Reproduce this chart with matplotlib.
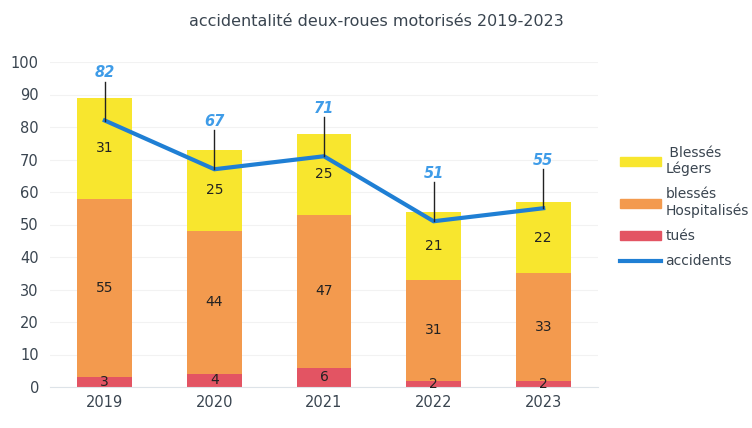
import numpy as np
import matplotlib
matplotlib.use("Agg")
import matplotlib.pyplot as plt
from matplotlib.patches import Patch
from matplotlib.lines import Line2D

# data
years = ["2019", "2020", "2021", "2022", "2023"]
tues = [3, 4, 6, 2, 2]
hospitalises = [55, 44, 47, 31, 33]
legers = [31, 25, 25, 21, 22]
accidents = [82, 67, 71, 51, 55]

c_tues = "#E35463"
c_hosp = "#F39A4E"
c_leg = "#F8E62E"
c_line = "#1F7FD4"
c_lab = "#3F9CE8"
c_txt = "#3a4550"

fig = plt.figure(figsize=(7.52, 4.28), dpi=100)
ax = fig.add_axes([50 / 752, 1 - 387 / 428, 548 / 752, 325 / 428])

x = np.arange(len(years))
w = 0.5
tues = np.array(tues)
hospitalises = np.array(hospitalises)
legers = np.array(legers)

ax.bar(x, tues, w, color=c_tues, zorder=2)
ax.bar(x, hospitalises, w, bottom=tues, color=c_hosp, zorder=2)
ax.bar(x, legers, w, bottom=tues + hospitalises, color=c_leg, zorder=2)

# segment labels
for i in range(len(years)):
    ax.text(x[i], tues[i] / 2, str(tues[i]), ha="center", va="center",
            fontsize=10, color="#222222", zorder=4)
    ax.text(x[i], tues[i] + hospitalises[i] / 2, str(hospitalises[i]), ha="center",
            va="center", fontsize=10, color="#222222", zorder=4)
    ax.text(x[i], tues[i] + hospitalises[i] + legers[i] / 2, str(legers[i]),
            ha="center", va="center", fontsize=10, color="#222222", zorder=4)

ax.plot(x, accidents, color=c_line, lw=3, zorder=3, solid_joinstyle="miter")

# accident labels with leader lines
for i, v in enumerate(accidents):
    ax.plot([x[i], x[i]], [v, v + 12], color="#222222", lw=1, zorder=3)
    ax.text(x[i], v + 12.5, str(v), ha="center", va="bottom", fontsize=10.5,
            color=c_lab, fontstyle="italic", fontweight="bold", zorder=4)

ax.set_xlim(-0.5, 4.5)
ax.set_ylim(0, 100)
ax.set_yticks(np.arange(0, 101, 10))
ax.set_xticks(x)
ax.set_xticklabels(years)
ax.tick_params(length=0, labelsize=10.5, colors=c_txt, pad=8)
ax.tick_params(axis="x", pad=6)
ax.grid(axis="y", color="#f2f2f2", lw=0.8, zorder=0)
for s in ["top", "right", "left"]:
    ax.spines[s].set_visible(False)
ax.spines["bottom"].set_color("#dde3e8")

fig.text(0.5, 1 - 22 / 428, "accidentalité deux-roues motorisés 2019-2023",
         ha="center", va="center", fontsize=11.5, color=c_txt)

handles = [
    Patch(color=c_leg, label=" Blessés\nLégers"),
    Patch(color=c_hosp, label="blessés\nHospitalisés"),
    Patch(color=c_tues, label="tués"),
    Line2D([], [], color=c_line, lw=3, label="accidents"),
]
leg = fig.legend(handles=handles, loc="upper left", bbox_to_anchor=(614 / 752, 1 - 140 / 428),
                 frameon=False, fontsize=10, handlelength=3.0, handleheight=0.6,
                 handletextpad=0.3, labelspacing=0.8, borderaxespad=0)
for t in leg.get_texts():
    t.set_color(c_txt)

fig.savefig("out.png", dpi=100)
